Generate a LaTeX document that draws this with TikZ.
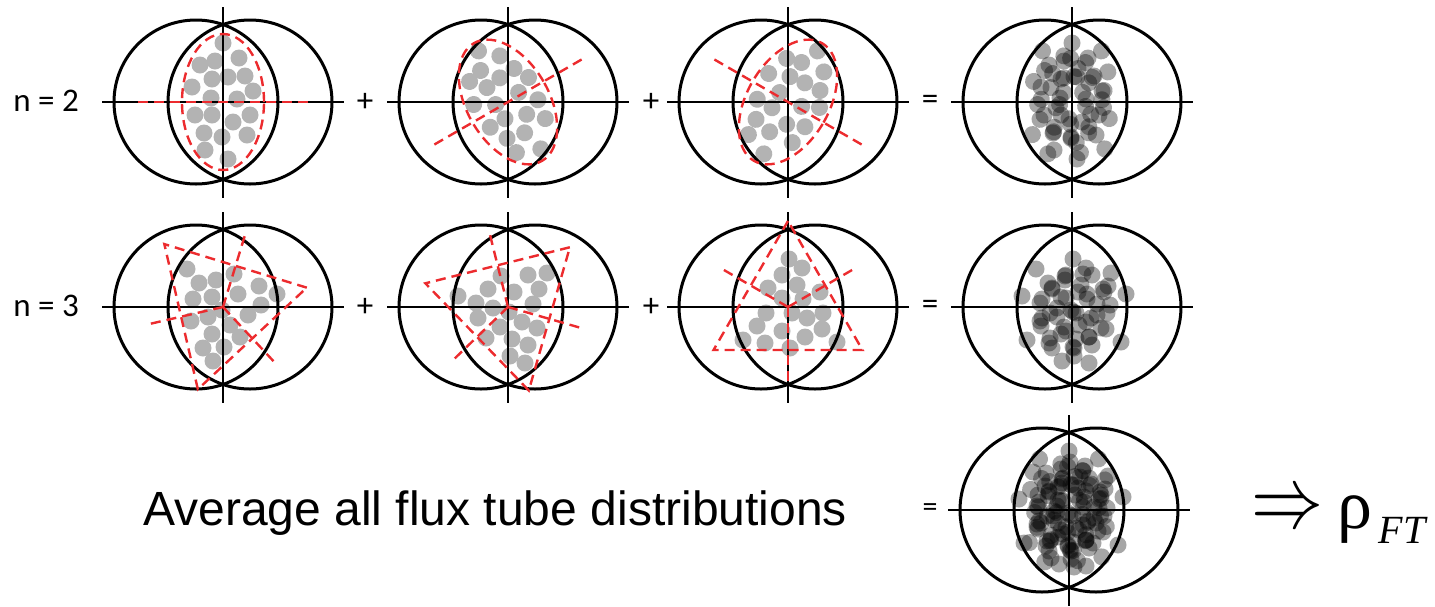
\documentclass[tikz,border=0pt]{standalone}
\usepackage{fontspec}
\setmainfont{Liberation Sans}
\newfontfamily\labelfont{Carlito}
\newfontfamily\rhofont{Liberation Serif}
\definecolor{fluxred}{HTML}{EC2B2E}
\definecolor{dotgray}{HTML}{B3B3B3}

% dot positions of the single flux tube pictures (px, y up)
\newcommand\tubesA{0/59,-23/37,-8/41,16/44,22/26,5/25,-11/23,-31/15,30/11,-12/4,
  14/3,-28/-13,-11/-13,10/-20,27/-13,-19/-31,-1/-35,24/-33,-18/-48,5/-57}
\newcommand\tubesB{-36/38,-24/24,-7/27,11/33,-30/8,-11/10,15/13,36/21,54/13,38/2,
  25/-8,-32/-14,-15/-10,-1/-3,7/-18,-11/-27,17/-30,-20/-41,1/-40,-10/-54}
\newcommand\tubesC{-7/31,20/32,39/34,-20/18,6/15,31/18,-50/11,-32/4,-15/-1,25/3,
  -30/-11,1/-5,14/-15,-8/-20,29/-21,-22/-31,4/-32,20/-38,2/-49,17/-56}
\newcommand\tubesD{1/48,14/39,-6/32,9/22,-20/19,32/15,-6/9,15/8,35/-6,-22/-6,
  4/-6,19/-11,-31/-19,-6/-24,34/-22,-45/-33,-23/-36,17/-30,2/-41,49/-35}

\newcommand\tubedots[3]{\foreach \u/\v in #1 {\fill[#2,rotate=#3] (\u,\v) circle (8.5);}}
\newcommand\lens{%
  \draw[ring] (-27,0) circle (82);
  \draw[ring] (27,0) circle (82);
  \draw[axis] (-121,0) -- (121,0);
  \draw[axis] (0,95) -- (0,-96);}
\newcommand\tubetwo[1]{%
  \draw[tube,rotate=#1] (0,0) ellipse [x radius=41,y radius=68];
  \draw[tube,rotate=#1] (-85,0) -- (85,0);}
\newcommand\tubethree[1]{%
  \draw[tube] (#1:86) -- (#1+120:86) -- (#1+240:86) -- cycle;
  \foreach \a in {60,180,300} {\draw[tube] (0,0) -- (#1+\a:75);}}

\begin{document}
\begin{tikzpicture}[x=0.5pt,y=0.5pt,
  ring/.style={line width=1.5pt},
  axis/.style={line width=1.25pt},
  tube/.style={draw=fluxred,line width=1.2pt,dash pattern=on 5pt off 3pt},
  tubedot/.style={fill=dotgray},
  sumdot/.style={fill=black,fill opacity=0.35},
  lab/.style={font=\labelfont\fontsize{16.5}{19}\selectfont,inner sep=0pt}]
\useasboundingbox (0,0) rectangle (1435,-606);

% n = 2
\node[lab,anchor=base west] (ntwo) at (13,-111) {n = 2};
\begin{scope}[shift={(223,-102)}]
  \tubedots{\tubesA}{tubedot}{0} \lens \tubetwo{0}
\end{scope}
\node[lab] (plusA) at (365,-102) {+};
\begin{scope}[shift={(508,-102)}]
  \tubedots{\tubesA}{tubedot}{30} \lens \tubetwo{30}
\end{scope}
\node[lab] (plusB) at (651,-102) {+};
\begin{scope}[shift={(788,-102)}]
  \tubedots{\tubesA}{tubedot}{-30} \lens \tubetwo{-30}
\end{scope}
\node[lab] (eqA) at (930,-102) {=};
\begin{scope}[shift={(1072,-102)}]
  \tubedots{\tubesA}{sumdot}{0}
  \tubedots{\tubesA}{sumdot}{30}
  \tubedots{\tubesA}{sumdot}{-30}
  \lens
\end{scope}

% n = 3
\node[lab,anchor=base west] (nthree) at (13,-316) {n = 3};
\begin{scope}[shift={(223,-307)}]
  \tubedots{\tubesB}{tubedot}{0} \lens \tubethree{13}
\end{scope}
\node[lab] (plusC) at (365,-307) {+};
\begin{scope}[shift={(508,-307)}]
  \tubedots{\tubesC}{tubedot}{0} \lens \tubethree{44}
\end{scope}
\node[lab] (plusD) at (651,-307) {+};
\begin{scope}[shift={(788,-307)}]
  \tubedots{\tubesD}{tubedot}{0} \lens \tubethree{90}
\end{scope}
\node[lab] (eqB) at (930,-307) {=};
\begin{scope}[shift={(1072,-307)}]
  \tubedots{\tubesB}{sumdot}{0}
  \tubedots{\tubesC}{sumdot}{0}
  \tubedots{\tubesD}{sumdot}{0}
  \lens
\end{scope}

% average of everything
\node[anchor=base west,inner sep=0pt,font=\fontsize{24}{28}\selectfont] (avg)
  at (143,-525) {Average all flux tube distributions};
\node[lab,font=\labelfont\fontsize{15}{17}\selectfont] (eqC) at (930,-510) {=};
\begin{scope}[shift={(1069,-510)}]
  \tubedots{\tubesA}{sumdot}{0}
  \tubedots{\tubesA}{sumdot}{30}
  \tubedots{\tubesA}{sumdot}{-30}
  \tubedots{\tubesB}{sumdot}{0}
  \tubedots{\tubesC}{sumdot}{0}
  \tubedots{\tubesD}{sumdot}{0}
  \lens
\end{scope}
\node[inner sep=0pt] (implies) at (1287,-511) {\scalebox{3.6}[4.4]{$\Rightarrow$}};
\node[inner sep=0pt,font=\rhofont\fontsize{35}{40}\selectfont] (rho) at (1355,-520) {ρ};
\node[inner sep=0pt,font=\rhofont\itshape\fontsize{20}{24}\selectfont] (ft) at (1402,-530) {FT};
\end{tikzpicture}
\end{document}
